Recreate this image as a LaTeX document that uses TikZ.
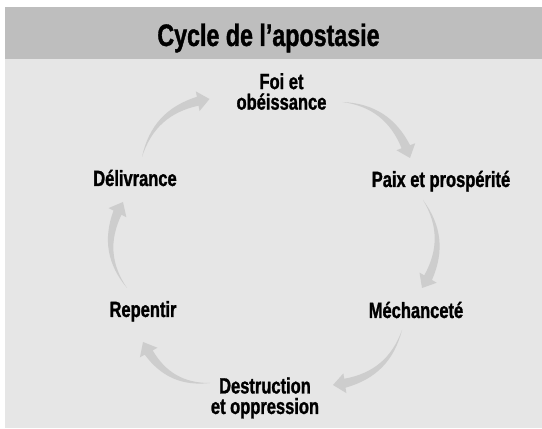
\documentclass[tikz,border=0pt]{standalone}
\usepackage{fontspec}
\setmainfont{Liberation Sans}[FakeStretch=0.75,BoldFeatures={FakeBold=1.2}]
\usepackage{tikz}
\usetikzlibrary{calc}

\definecolor{bargray}{HTML}{BEBEBE}
\definecolor{panelgray}{HTML}{E6E6E6}
\definecolor{arrowgray}{HTML}{CDCDCD}

\tikzset{
    stage/.style={font=\bfseries\fontsize{22}{20.5}\selectfont,align=center,inner sep=0pt},
    heading/.style={font=\bfseries\fontsize{31}{32}\selectfont,inner sep=0pt}
}

% tapered arrow: tail, tip, bend
\newcommand{\cyclearrow}[3]{%
    \coordinate (h) at ($(#2)!12pt!-#3:(#1)$);
    \fill[arrowgray] (#1) to[bend left=#3] ($(h)!4.5pt!90:(#2)$) -- ($(h)!10pt!90:(#2)$) -- (#2)
        -- ($(h)!10pt!-90:(#2)$) -- ($(h)!4.5pt!-90:(#2)$) to[bend right=#3] (#1) -- cycle;
}

\begin{document}
\begin{tikzpicture}[x=1pt,y=1pt]
    \useasboundingbox (0,0) rectangle (542,429);
    \fill[panelgray] (5,1) rectangle (542,370);
    \fill[bargray] (5,370) rectangle (542,422);

    \node[heading,anchor=base] (title) at (268.5,383) {Cycle de l’apostasie};

    \node[stage] (foi) at (281.5,337.5) {Foi et\\obéissance};
    \node[stage,anchor=base] (paix) at (441,242) {Paix et prospérité};
    \node[stage,anchor=base] (mech) at (416,111) {Méchanceté};
    \node[stage] (destr) at (265,31) {Destruction\\et oppression};
    \node[stage,anchor=base] (rep) at (143,112) {Repentir};
    \node[stage,anchor=base] (deliv) at (135,243) {Délivrance};

    \cyclearrow{$(deliv.base)+(7,29)$}{$(foi)+(-72,-7.5)$}{30}
    \cyclearrow{$(foi)+(61,-10.5)$}{$(paix.base)+(-31,29)$}{30}
    \cyclearrow{$(paix.base)+(-18,-13)$}{$(mech.base)+(6,30)$}{30}
    \cyclearrow{$(mech.base)+(-14,-12)$}{$(destr)+(68,13)$}{30}
    \cyclearrow{$(destr)+(-55,15)$}{$(rep.base)+(0,-25)$}{30}
    \cyclearrow{$(rep.base)+(-16,29)$}{$(deliv.base)+(-12,-16)$}{30}
\end{tikzpicture}
\end{document}
